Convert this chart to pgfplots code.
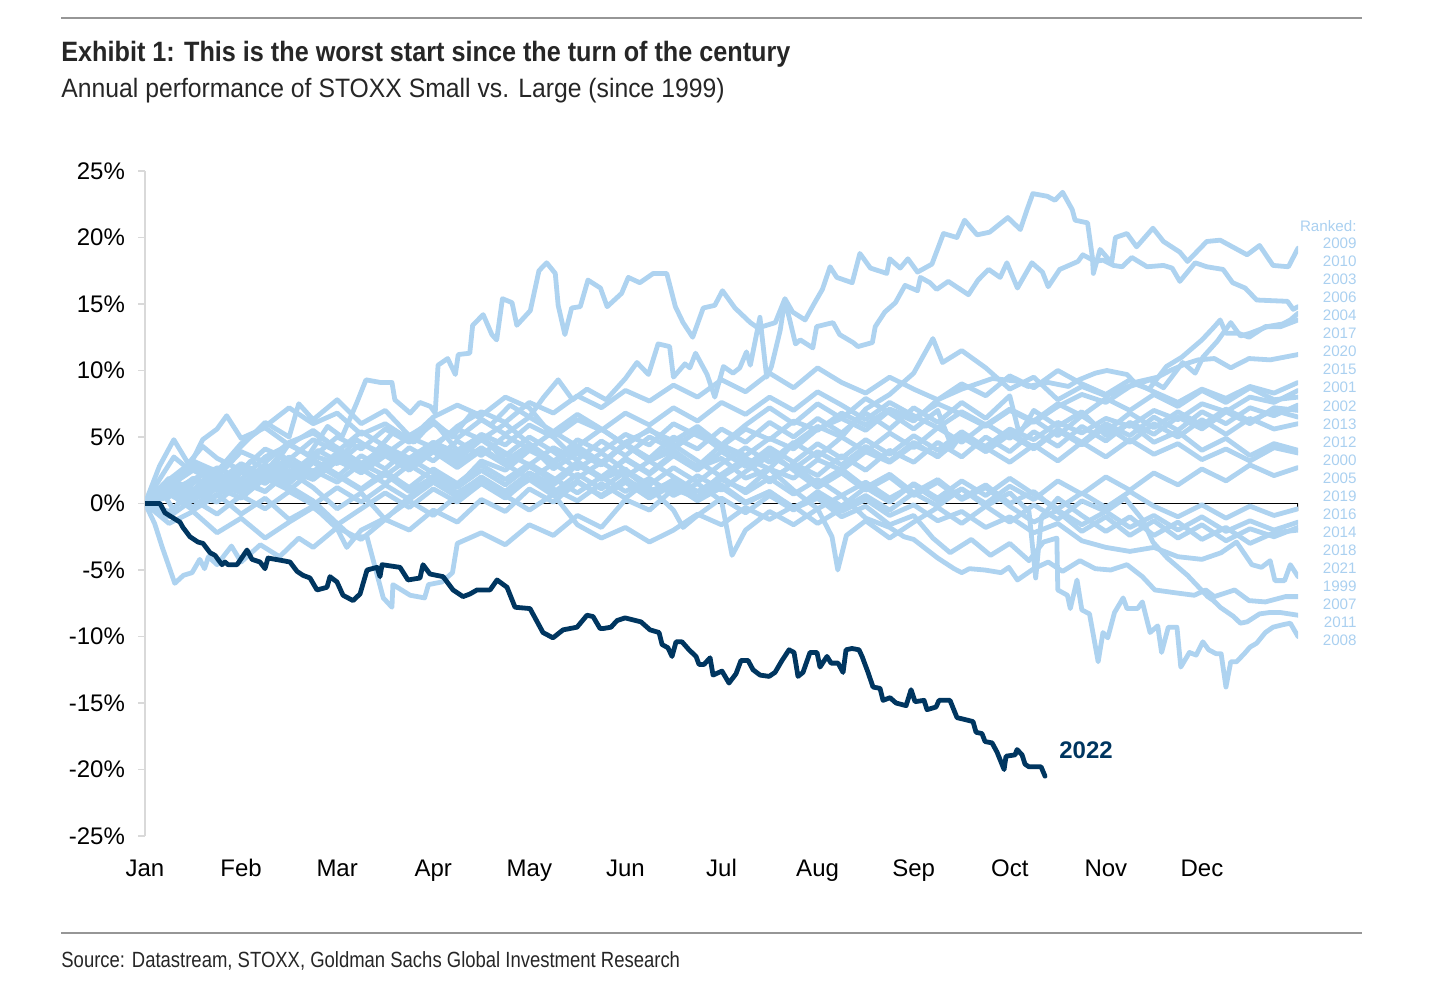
\documentclass[border=0pt]{standalone}
\usepackage{fontspec}
\setmainfont{Liberation Sans}
\newfontfamily\condfont[FakeStretch=0.9]{Liberation Sans}
\newfontfamily\subfont[FakeStretch=0.93]{Liberation Sans}
\newfontfamily\srcfont[FakeStretch=0.84]{Liberation Sans}
\usepackage{pgfplots}
\pgfplotsset{compat=1.18}
\definecolor{lb}{RGB}{174,211,240}
\definecolor{lbtext}{RGB}{170,208,240}
\definecolor{navy}{RGB}{0,54,96}
\definecolor{rulegray}{RGB}{150,150,150}
\definecolor{axgray}{RGB}{217,217,217}
\definecolor{titlec}{RGB}{38,38,38}
\pgfplotsset{lbline/.style={color=lb, line width=2.4pt, line join=round, line cap=round, mark=none}}
\begin{document}
\begin{tikzpicture}
\begin{scope}[x=0.5pt,y=0.5pt]
\useasboundingbox (0,0) rectangle (1438,986);
\draw[rulegray,line width=1pt] (61,968) -- (1362,968);
\draw[rulegray,line width=1pt] (61,53) -- (1362,53);
\node[anchor=base west,inner sep=0,text=titlec,font=\condfont\bfseries\fontsize{14}{16}\selectfont] at (61,924) {Exhibit 1: This is the worst start since the turn of the century};
\node[anchor=base west,inner sep=0,text=titlec,font=\subfont\fontsize{13.3}{16}\selectfont] at (61,888) {Annual performance of STOXX Small vs. Large (since 1999)};
\node[anchor=base west,inner sep=0,text=titlec,font=\srcfont\fontsize{11}{13}\selectfont] at (61,19) {Source: Datastream, STOXX, Goldman Sachs Global Investment Research};
\end{scope}
\begin{axis}[at={(72.5pt,75pt)},anchor=south west,scale only axis,
  width=576.5pt,height=332.5pt,
  xmin=0,xmax=12,ymin=-25,ymax=25,
  axis x line*=bottom, axis y line*=left,
  x axis line style={draw=none},
  y axis line style={draw=axgray,line width=0.7pt},
  xtick={0,1,2,3,4,5,6,7,8,9,10,11},
  xticklabels={Jan,Feb,Mar,Apr,May,Jun,Jul,Aug,Sep,Oct,Nov,Dec},
  xtick style={draw=none},
  ytick={-25,-20,-15,-10,-5,0,5,10,15,20,25},
  yticklabels={-25\%,-20\%,-15\%,-10\%,-5\%,0\%,5\%,10\%,15\%,20\%,25\%},
  ytick style={draw=axgray,line width=0.7pt},
  tick align=outside, major tick length=3.5pt,
  yticklabel style={font=\fontsize{12}{14}\selectfont,xshift=-3pt},
  xticklabel style={font=\fontsize{12}{14}\selectfont,text height=9pt,text depth=2.5pt,yshift=-4pt},
]
\addplot[black,line width=0.7pt] coordinates {(0,0) (12,0) (12,-0.6)};
% 2009
\addplot[lbline] coordinates {(0,0) (0.15,1.2) (0.3,-0.5) (0.5,1.8) (0.7,2.6) (0.9,1.5) (1.1,3.2) (1.3,2.4) (1.5,4.5) (1.7,3.6) (1.9,5.8) (2.05,5.0) (2.2,7.5) (2.3,9.3) (2.45,9.1) (2.57,9.1) (2.6,7.8) (2.76,6.8) (2.86,7.6) (2.97,7.3) (3.02,6.8) (3.05,10.4) (3.15,10.9) (3.23,9.7) (3.26,11.2) (3.38,11.3) (3.41,13.4) (3.52,14.2) (3.61,12.7) (3.66,12.3) (3.72,15.4) (3.82,15.1) (3.87,13.4) (4.01,14.5) (4.10,17.5) (4.18,18.1) (4.27,17.3) (4.30,14.9) (4.37,12.7) (4.44,14.7) (4.53,14.8) (4.61,16.8) (4.74,16.2) (4.81,14.8) (4.96,15.8) (5.03,17.0) (5.15,16.6) (5.29,17.3) (5.43,17.3) (5.52,14.8) (5.60,13.6) (5.70,12.5) (5.81,14.7) (5.93,14.9) (6.01,16.0) (6.14,14.7) (6.30,13.6) (6.38,13.2) (6.56,13.6) (6.66,15.4) (6.74,14.4) (6.87,13.8) (6.97,15.1) (7.05,16.1) (7.13,17.8) (7.20,17.0) (7.36,16.6) (7.44,18.8) (7.55,17.7) (7.72,17.3) (7.75,18.4) (7.86,17.7) (7.94,18.4) (8.04,17.4) (8.19,18.0) (8.31,20.3) (8.45,20.0) (8.53,21.3) (8.66,20.2) (8.79,20.4) (8.98,21.5) (9.11,20.6) (9.18,22.1) (9.24,23.3) (9.39,23.1) (9.47,22.8) (9.55,23.4) (9.65,22.1) (9.68,21.3) (9.81,21.1) (9.86,18.5) (9.87,17.3) (9.94,19.1) (10.06,18.1) (10.10,20.0) (10.22,20.3) (10.32,19.3) (10.49,20.7) (10.60,19.7) (10.77,18.9) (10.85,18.2) (11.05,19.7) (11.19,19.8) (11.47,18.7) (11.60,19.4) (11.74,17.9) (11.90,17.8) (12,19.2)};
% 2010
\addplot[lbline] coordinates {(0,0) (0.2,1.5) (0.4,0.8) (0.6,2.2) (0.8,1.0) (1.0,2.8) (1.2,2.0) (1.4,3.6) (1.6,2.5) (1.8,4.0) (2.0,3.2) (2.2,4.8) (2.4,3.9) (2.6,5.5) (2.8,4.6) (3.0,6.2) (3.2,5.0) (3.4,6.8) (3.6,5.9) (3.8,7.4) (4.0,6.5) (4.15,8.0) (4.3,9.3) (4.45,7.8) (4.6,8.6) (4.8,7.8) (5.0,9.4) (5.12,10.6) (5.24,9.7) (5.34,12.0) (5.46,11.8) (5.50,9.5) (5.62,10.5) (5.67,10.2) (5.73,11.3) (5.85,9.7) (5.93,8.0) (6.02,10.3) (6.12,9.8) (6.19,10.2) (6.26,11.4) (6.30,10.4) (6.40,14.0) (6.47,9.5) (6.52,10.3) (6.61,13.0) (6.66,15.3) (6.77,12.0) (6.82,12.3) (6.95,11.7) (6.99,13.3) (7.16,13.6) (7.23,12.7) (7.37,12.1) (7.42,11.8) (7.57,12.1) (7.60,13.3) (7.70,14.4) (7.81,15.1) (7.91,16.4) (8.04,16.0) (8.07,17.0) (8.17,16.6) (8.24,16.1) (8.36,16.7) (8.57,15.7) (8.67,16.8) (8.78,17.6) (8.90,17.0) (8.97,18.1) (9.08,16.2) (9.23,18.1) (9.34,17.4) (9.40,16.3) (9.52,17.6) (9.71,18.2) (9.76,18.7) (9.89,18.2) (9.97,18.3) (10.08,17.9) (10.17,17.8) (10.27,18.5) (10.43,17.8) (10.60,17.9) (10.69,17.7) (10.77,16.7) (10.93,18.1) (11.05,17.8) (11.22,17.6) (11.32,16.6) (11.45,16.2) (11.57,15.3) (11.89,15.2) (11.95,14.6) (12,14.8)};
% 2003
\addplot[lbline] coordinates {(0,0) (0.25,0.8) (0.5,-0.5) (0.75,0.6) (1,1.8) (1.25,0.9) (1.5,2.4) (1.75,1.2) (2,-0.4) (2.25,0.8) (2.5,-1.2) (2.75,0.5) (3,2.0) (3.25,1.3) (3.5,3.2) (3.75,2.5) (4,4.0) (4.25,3.1) (4.5,4.8) (4.75,3.9) (5,5.2) (5.25,4.4) (5.5,6.0) (5.75,5.1) (6,4.3) (6.25,5.6) (6.5,4.8) (6.75,6.2) (7,5.5) (7.25,6.8) (7.5,5.9) (7.75,7.1) (8,6.4) (8.25,7.5) (8.5,6.7) (8.75,5.8) (9,7.0) (9.25,6.1) (9.5,7.3) (9.75,8.2) (10,7.6) (10.25,8.8) (10.46,9.3) (10.6,8.7) (10.80,10.6) (10.93,9.8) (11.01,11.0) (11.16,12.2) (11.3,13.6) (11.4,12.6) (11.50,12.8) (11.68,13.3) (11.84,13.5) (11.92,13.8) (12,14.3)};
% 2006
\addplot[lbline] coordinates {(0,0) (0.25,1.8) (0.5,3.2) (0.75,2.4) (1,4.5) (1.25,5.8) (1.5,7.2) (1.75,6.0) (2,6.8) (2.25,5.2) (2.5,6.0) (2.75,4.8) (3,6.5) (3.25,7.4) (3.5,6.6) (3.75,8.0) (4,7.2) (4.25,5.0) (4.5,3.2) (4.75,1.8) (5,2.6) (5.25,0.9) (5.5,1.7) (5.75,0.5) (6,2.2) (6.25,3.4) (6.5,2.6) (6.75,4.5) (7,5.8) (7.25,5.0) (7.5,7.1) (7.75,8.2) (8,9.8) (8.2,12.4) (8.3,10.6) (8.5,11.5) (8.75,10.2) (9,8.6) (9.25,9.5) (9.5,7.8) (9.75,8.8) (10,8.1) (10.30,9.0) (10.45,8.6) (10.63,10.3) (10.79,11.0) (11.00,12.3) (11.13,13.3) (11.19,13.8) (11.25,12.8) (11.38,12.8) (11.49,12.5) (11.66,13.3) (11.82,13.3) (12,13.8)};
% 2004
\addplot[lbline] coordinates {(0,0) (0.25,1.5) (0.5,2.8) (0.75,2.0) (1,3.9) (1.25,3.1) (1.5,4.6) (1.75,5.3) (2,4.2) (2.25,3.0) (2.5,3.8) (2.75,2.6) (3,4.4) (3.25,5.6) (3.5,4.8) (3.75,6.0) (4,4.5) (4.25,3.2) (4.5,4.1) (4.75,3.0) (5,4.6) (5.25,5.5) (5.5,4.7) (5.75,5.8) (6,4.4) (6.25,3.6) (6.5,4.9) (6.75,4.1) (7,5.6) (7.25,6.4) (7.5,5.5) (7.75,7.0) (8,6.2) (8.25,7.8) (8.5,8.6) (8.82,9.4) (9.07,9.2) (9.19,8.8) (9.40,9.1) (9.61,8.8) (9.72,9.3) (9.89,9.8) (10.01,10.0) (10.22,9.7) (10.30,9.1) (10.54,9.5) (10.67,10.0) (10.83,10.5) (10.96,10.8) (11.13,10.9) (11.3,10.2) (11.49,10.9) (11.71,10.8) (12,11.2)};
% 2017
\addplot[lbline] coordinates {(0,0) (0.25,1.2) (0.5,0.6) (0.75,2.0) (1,1.4) (1.25,2.9) (1.5,2.2) (1.75,3.6) (2,3.0) (2.25,4.5) (2.5,3.7) (2.75,5.0) (3,4.2) (3.25,5.8) (3.5,6.9) (3.75,6.1) (4,7.6) (4.25,6.8) (4.5,8.1) (4.75,7.2) (5,8.5) (5.25,7.7) (5.5,8.9) (5.75,8.0) (6,9.3) (6.25,8.4) (6.5,9.8) (6.75,8.7) (7,10.2) (7.25,9.1) (7.5,8.3) (7.75,9.5) (8,8.6) (8.25,7.8) (8.5,9.0) (8.75,8.1) (9,9.6) (9.25,8.7) (9.5,10.0) (9.75,9.0) (10,8.2) (10.25,9.3) (10.5,8.4) (10.75,7.6) (11,8.6) (11.25,7.9) (11.5,8.8) (11.75,8.3) (12,9.1)};
% 2020
\addplot[lbline] coordinates {(0,0) (0.25,0.9) (0.5,0.2) (0.75,1.5) (1,0.8) (1.25,2.1) (1.5,1.3) (1.75,0.2) (2.0,-1.5) (2.15,-2.5) (2.31,-2.5) (2.48,-7.1) (2.57,-7.8) (2.58,-6.1) (2.76,-6.9) (2.91,-7.1) (2.95,-6.1) (3.09,-5.9) (3.20,-5.2) (3.25,-3.0) (3.5,-2.2) (3.75,-3.1) (4,-1.6) (4.25,-2.4) (4.5,-0.9) (4.75,-1.8) (5,0.3) (5.25,-0.5) (5.5,1.1) (5.75,0.4) (6,1.8) (6.25,1.0) (6.5,2.6) (6.75,1.9) (7,3.3) (7.25,2.5) (7.5,3.9) (7.75,3.1) (8,4.4) (8.25,3.6) (8.5,5.0) (8.75,4.3) (9,5.6) (9.25,4.8) (9.5,6.1) (9.75,5.3) (10,6.4) (10.25,5.8) (10.5,7.0) (10.75,6.3) (11,7.5) (11.25,6.9) (11.5,8.0) (11.75,7.6) (12,8.5)};
% 2015
\addplot[lbline] coordinates {(0,0) (0.25,-0.6) (0.5,0.8) (0.75,0.1) (1,1.6) (1.25,0.9) (1.5,2.5) (1.75,1.8) (2,3.2) (2.25,2.4) (2.5,3.9) (2.75,3.0) (3,4.6) (3.25,3.8) (3.5,5.2) (3.75,4.4) (4,5.9) (4.25,5.0) (4.5,6.3) (4.75,5.5) (5,6.8) (5.25,5.9) (5.5,7.2) (5.75,6.2) (6,7.6) (6.25,6.7) (6.5,8.0) (6.75,7.0) (7,8.4) (7.25,7.4) (7.5,6.3) (7.75,7.6) (8,6.6) (8.25,5.7) (8.5,6.9) (8.75,5.9) (9,7.1) (9.25,6.2) (9.5,7.5) (9.75,6.6) (10,7.9) (10.25,7.0) (10.5,8.2) (10.75,7.3) (11,8.5) (11.25,7.6) (11.5,8.7) (11.75,7.8) (12,8.0)};
% 2001
\addplot[lbline] coordinates {(0,0) (0.15,2.8) (0.3,4.8) (0.45,3.0) (0.6,4.3) (0.75,3.4) (1,2.5) (1.25,4.1) (1.5,3.3) (1.75,4.8) (2,3.9) (2.25,5.4) (2.5,4.3) (2.75,3.4) (3,4.6) (3.25,3.5) (3.5,4.9) (3.75,3.8) (4,2.9) (4.25,4.2) (4.5,3.3) (4.75,4.7) (5,3.6) (5.25,5.0) (5.5,4.1) (5.75,5.5) (6,4.4) (6.25,5.9) (6.5,7.2) (6.75,6.0) (7,7.5) (7.25,6.4) (7.5,7.9) (7.75,6.8) (8,5.6) (8.25,7.0) (8.4,4.2) (8.5,5.2) (8.75,3.9) (9,5.4) (9.25,4.2) (9.5,5.6) (9.75,4.6) (10,6.0) (10.25,5.1) (10.5,6.5) (10.75,5.5) (11,6.9) (11.25,6.0) (11.5,7.2) (11.75,6.6) (12,7.4)};
% 2002
\addplot[lbline] coordinates {(0,0) (0.25,1.0) (0.5,-0.4) (0.75,0.7) (1,-0.8) (1.25,0.4) (1.5,-1.2) (1.75,-0.2) (2,-1.9) (2.1,-3.3) (2.25,-2.0) (2.5,-1.1) (2.75,0.2) (3,-0.9) (3.25,0.6) (3.5,1.8) (3.75,0.9) (4,2.3) (4.25,1.4) (4.5,2.9) (4.75,1.9) (5,3.4) (5.25,2.3) (5.5,3.8) (5.75,2.8) (6,4.4) (6.25,3.2) (6.5,1.6) (6.75,3.0) (7,2.1) (7.25,3.6) (7.5,2.5) (7.75,4.0) (8,3.1) (8.25,4.6) (8.5,3.5) (8.75,5.0) (9,3.9) (9.25,5.4) (9.5,4.3) (9.75,5.8) (10,4.7) (10.25,6.1) (10.5,5.2) (10.75,6.5) (11,5.6) (11.25,6.9) (11.5,6.0) (11.75,7.2) (12,7.0)};
% 2013
\addplot[lbline] coordinates {(0,0) (0.15,1.8) (0.3,3.5) (0.45,2.6) (0.6,4.8) (0.75,5.6) (0.85,6.6) (1,4.9) (1.25,5.7) (1.5,4.4) (1.75,5.5) (2,4.1) (2.25,3.0) (2.5,4.3) (2.75,3.1) (3,4.5) (3.25,3.3) (3.5,4.8) (3.75,3.6) (4,5.0) (4.25,3.9) (4.5,2.6) (4.75,3.8) (5,2.5) (5.25,1.4) (5.5,2.7) (5.75,1.6) (6,3.0) (6.25,4.2) (6.5,3.1) (6.75,4.6) (7,3.5) (7.25,5.0) (7.5,3.9) (7.75,5.3) (8,4.2) (8.25,5.7) (8.5,4.6) (8.75,6.0) (9,4.9) (9.25,6.3) (9.5,5.1) (9.75,6.6) (10,5.4) (10.25,6.8) (10.5,5.7) (10.75,6.9) (11,5.9) (11.25,7.1) (11.5,6.2) (11.75,7.0) (12,6.5)};
% 2012
\addplot[lbline] coordinates {(0,0) (0.25,0.5) (0.5,1.9) (0.75,1.1) (1,2.6) (1.25,1.7) (1.5,3.1) (1.75,2.2) (2,3.6) (2.25,2.6) (2.5,1.5) (2.75,2.9) (3,1.8) (3.25,0.7) (3.5,2.0) (3.75,0.9) (4,2.3) (4.25,1.1) (4.5,0.2) (4.75,1.5) (5,0.4) (5.25,1.8) (5.5,0.7) (5.75,2.1) (6,1.0) (6.25,2.4) (6.5,3.6) (6.75,2.6) (7,3.9) (7.25,2.9) (7.5,4.3) (7.75,3.2) (8,4.6) (8.25,3.5) (8.5,5.0) (8.75,3.9) (9,5.2) (9.25,4.1) (9.5,5.5) (9.75,4.4) (10,5.8) (10.25,4.6) (10.5,6.0) (10.75,5.0) (11,6.3) (11.25,5.2) (11.5,6.4) (11.75,5.6) (12,6.0)};
% 2000
\addplot[lbline] coordinates {(0,0) (0.25,1.4) (0.5,3.0) (0.75,2.1) (1,4.3) (1.25,6.1) (1.5,5.0) (1.6,7.5) (1.75,6.3) (2,7.8) (2.25,6.0) (2.5,7.0) (2.75,5.1) (3,6.2) (3.25,4.0) (3.5,5.1) (3.75,3.2) (4,4.4) (4.25,2.6) (4.5,3.8) (4.75,2.9) (5,4.5) (5.25,3.4) (5.5,5.0) (5.75,4.1) (6,5.6) (6.25,4.6) (6.5,6.1) (6.75,5.0) (7,6.4) (7.25,5.3) (7.5,6.8) (7.75,5.6) (8,7.2) (8.25,6.1) (8.5,7.6) (8.75,6.4) (9,8.1) (9.1,5.2) (9.25,7.0) (9.5,5.8) (9.75,6.9) (10,5.1) (10.25,6.0) (10.5,4.6) (10.75,5.4) (11,4.0) (11.25,4.9) (11.5,3.6) (11.75,4.5) (12,4.0)};
% 2005
\addplot[lbline] coordinates {(0,0) (0.25,0.7) (0.5,-0.3) (0.75,1.2) (1,0.4) (1.25,1.9) (1.5,1.0) (1.75,2.5) (2,1.6) (2.25,3.0) (2.5,2.1) (2.75,3.4) (3,2.3) (3.25,1.2) (3.5,2.5) (3.75,1.4) (4,2.8) (4.25,1.7) (4.5,3.1) (4.75,2.0) (5,3.3) (5.25,2.2) (5.5,3.6) (5.75,2.5) (6,3.9) (6.25,2.8) (6.5,4.2) (6.75,3.1) (7,4.5) (7.25,3.4) (7.5,4.8) (7.75,3.7) (8,5.1) (8.25,4.0) (8.5,5.4) (8.75,4.2) (9,3.1) (9.25,4.4) (9.5,3.2) (9.75,4.6) (10,3.5) (10.25,4.8) (10.5,3.7) (10.75,4.5) (11,3.3) (11.25,4.1) (11.5,3.2) (11.75,4.2) (12,3.8)};
% 2019
\addplot[lbline] coordinates {(0,0) (0.25,1.6) (0.5,0.9) (0.75,2.3) (1,1.4) (1.25,2.8) (1.5,1.8) (1.75,3.2) (2,2.1) (2.25,1.0) (2.5,2.2) (2.75,0.9) (3,2.0) (3.25,0.8) (3.5,1.9) (3.75,0.6) (4,-0.5) (4.25,0.7) (4.5,-1.6) (4.75,-2.6) (5,-1.8) (5.25,-2.9) (5.5,-2.0) (5.75,-0.8) (6,-1.6) (6.25,-0.3) (6.5,-1.2) (6.75,-0.2) (7,-1.5) (7.25,-0.4) (7.5,0.6) (7.75,-0.5) (8,0.8) (8.25,-0.2) (8.5,1.1) (8.75,0.0) (9,1.3) (9.25,0.3) (9.5,1.7) (9.75,0.7) (10,2.0) (10.25,1.0) (10.5,2.3) (10.75,1.4) (11,2.6) (11.25,1.7) (11.5,2.9) (11.75,2.1) (12,2.7)};
% 2016
\addplot[lbline] coordinates {(0,0) (0.25,-1.5) (0.5,-0.6) (0.75,-2.2) (1,-1.1) (1.25,-2.6) (1.5,-1.4) (1.75,-0.3) (2,-1.6) (2.25,-0.4) (2.5,0.8) (2.75,-0.3) (3,1.1) (3.25,0.1) (3.5,1.5) (3.75,0.4) (4,1.9) (4.25,0.8) (4.5,2.2) (4.75,1.1) (5,2.4) (5.25,1.2) (5.5,-0.5) (5.6,-1.8) (5.75,-0.9) (6,0.4) (6.25,-0.7) (6.5,0.6) (6.75,-0.5) (7,0.9) (7.25,-0.2) (7.5,1.2) (7.75,0.1) (8,1.5) (8.25,0.4) (8.5,1.7) (8.75,0.6) (9,1.9) (9.25,0.7) (9.5,-0.4) (9.75,0.8) (10,-0.3) (10.25,0.9) (10.5,-0.2) (10.75,-1.0) (11,-0.1) (11.25,-1.1) (11.5,-0.2) (11.75,-0.9) (12,-0.4)};
% 2014
\addplot[lbline] coordinates {(0,0) (0.25,1.9) (0.5,1.0) (0.75,2.7) (1,1.8) (1.25,3.5) (1.5,4.4) (1.75,3.5) (2,5.0) (2.25,4.1) (2.5,5.6) (2.75,4.6) (3,6.0) (3.25,4.9) (3.5,6.3) (3.75,5.2) (4,6.5) (4.25,5.4) (4.5,6.7) (4.75,5.6) (5,4.4) (5.25,5.6) (5.5,4.3) (5.75,5.4) (6,4.0) (6.25,2.8) (6.5,3.9) (6.75,2.5) (7,1.2) (7.25,2.3) (7.5,1.0) (7.75,2.0) (8,0.6) (8.25,1.6) (8.5,0.3) (8.75,1.2) (9,-0.2) (9.25,-1.4) (9.5,-0.5) (9.75,-1.6) (10,-0.6) (10.25,-1.8) (10.5,-0.9) (10.75,-2.0) (11,-1.0) (11.25,-2.1) (11.5,-1.3) (11.75,-2.0) (12,-1.4)};
% 2018
\addplot[lbline] coordinates {(0,0) (0.25,0.9) (0.5,1.8) (0.75,1.0) (1,2.4) (1.25,1.5) (1.5,2.9) (1.75,1.9) (2,3.3) (2.25,2.3) (2.5,3.6) (2.75,2.5) (3,3.9) (3.25,2.7) (3.5,4.0) (3.75,2.9) (4,4.2) (4.25,3.0) (4.5,4.3) (4.75,3.1) (5,4.4) (5.25,3.2) (5.5,4.4) (5.75,3.2) (6,2.0) (6.25,3.1) (6.5,1.8) (6.75,2.9) (7,1.5) (7.25,2.6) (7.5,1.2) (7.75,2.2) (8,0.8) (8.25,1.8) (8.5,0.4) (8.75,1.4) (9,0.0) (9.25,0.9) (9.5,-0.6) (9.75,-2.1) (10,-1.0) (10.25,-2.4) (10.5,-1.3) (10.75,-2.6) (11,-1.6) (11.25,-2.8) (11.5,-1.9) (11.75,-2.5) (12,-1.8)};
% 2021
\addplot[lbline] coordinates {(0,0) (0.25,1.3) (0.5,2.5) (0.75,1.6) (1,3.0) (1.25,2.1) (1.5,3.5) (1.75,2.4) (2,3.8) (2.25,2.7) (2.5,4.0) (2.75,2.9) (3,4.1) (3.25,3.0) (3.5,4.2) (3.75,3.0) (4,1.8) (4.25,3.0) (4.5,1.9) (4.75,3.1) (5,2.0) (5.25,3.2) (5.5,2.0) (5.75,0.9) (6,2.0) (6.25,0.8) (6.5,1.9) (6.75,0.7) (7,1.8) (7.25,0.6) (7.5,1.6) (7.75,0.4) (8,1.4) (8.25,0.2) (8.5,1.1) (8.75,-0.2) (9,0.8) (9.2,-0.6) (9.27,-5.6) (9.33,-1.0) (9.5,0.4) (9.75,-0.9) (10,-2.1) (10.25,-1.0) (10.5,-2.4) (10.75,-1.4) (11,-2.7) (11.25,-1.8) (11.5,-3.0) (11.75,-2.2) (12,-2.0)};
% 1999
\addplot[lbline] coordinates {(0,0) (0.25,-1.0) (0.5,0.3) (0.75,-0.8) (1,0.6) (1.25,-0.4) (1.5,0.9) (1.75,-0.1) (2,1.2) (2.25,0.1) (2.5,1.4) (2.75,0.3) (3,1.6) (3.25,0.5) (3.5,1.7) (3.75,0.6) (4,1.8) (4.25,0.6) (4.5,1.7) (4.75,0.5) (5,1.6) (5.25,0.4) (5.5,1.4) (5.75,0.2) (6,1.2) (6.25,0.0) (6.5,0.9) (6.75,-0.3) (7,0.6) (7.25,-0.6) (7.5,0.3) (7.75,-0.9) (8,-0.1) (8.25,-1.3) (8.5,-0.6) (8.75,-1.8) (9,-1.0) (9.25,-2.2) (9.5,-1.5) (9.75,-2.8) (10,-3.3) (10.25,-3.6) (10.5,-3.3) (10.75,-4.0) (11,-4.2) (11.2,-3.7) (11.36,-2.9) (11.52,-4.6) (11.62,-4.8) (11.71,-4.3) (11.76,-5.8) (11.86,-5.8) (11.92,-4.6) (12,-5.5)};
% 2007
\addplot[lbline] coordinates {(0,0) (0.25,1.2) (0.5,0.4) (0.75,1.9) (1,1.0) (1.25,2.6) (1.5,1.5) (1.75,3.1) (2,2.0) (2.25,3.6) (2.5,2.6) (2.75,4.2) (3,3.2) (3.25,4.7) (3.5,3.6) (3.75,5.1) (4,4.1) (4.25,5.4) (4.5,4.3) (4.75,5.6) (5,4.4) (5.25,3.2) (5.5,4.0) (5.75,2.7) (6,3.4) (6.25,1.9) (6.5,2.6) (6.75,1.0) (7,-0.4) (7.25,0.6) (7.5,-1.1) (7.75,-1.8) (7.9,-2.5) (8.0,-2.7) (8.25,-4.1) (8.42,-4.9) (8.5,-5.2) (8.58,-4.9) (8.74,-5.0) (8.91,-5.2) (8.99,-4.8) (9.08,-5.75) (9.25,-4.9) (9.4,-4.4) (9.55,-5.1) (9.73,-4.3) (9.89,-4.9) (10.05,-5.0) (10.22,-4.6) (10.38,-5.5) (10.51,-6.5) (10.71,-6.7) (10.92,-6.9) (11.04,-6.5) (11.13,-7.0) (11.34,-6.5) (11.49,-7.3) (11.66,-7.4) (11.87,-7.0) (12,-7.0)};
% 2011
\addplot[lbline] coordinates {(0,0) (0.25,1.6) (0.5,0.7) (0.75,2.2) (1,1.3) (1.25,2.9) (1.5,1.9) (1.75,3.3) (2,2.2) (2.25,1.1) (2.5,2.4) (2.75,1.2) (3,2.6) (3.25,1.5) (3.5,2.9) (3.75,1.8) (4,3.0) (4.25,1.9) (4.5,0.8) (4.75,2.0) (5,0.9) (5.25,1.9) (5.5,0.6) (5.75,1.5) (6,0.2) (6.11,-3.9) (6.25,-2.0) (6.5,-0.6) (6.75,-1.6) (7,-0.4) (7.15,-2.5) (7.21,-5.0) (7.3,-2.4) (7.5,-1.3) (7.75,-2.6) (8,-1.4) (8.25,-0.3) (8.5,-1.5) (8.75,-0.2) (9,-1.4) (9.25,-0.1) (9.5,-1.2) (9.75,0.2) (10,-0.6) (10.2,0.4) (10.38,-1.2) (10.49,-2.9) (10.64,-4.1) (10.85,-5.4) (11.06,-7.0) (11.12,-7.3) (11.19,-7.8) (11.27,-8.2) (11.33,-8.5) (11.40,-9.0) (11.47,-8.9) (11.6,-8.3) (11.7,-8.2) (11.82,-8.2) (12,-8.4)};
% 2008
\addplot[lbline] coordinates {(0,0) (0.1,-1.5) (0.18,-3.3) (0.31,-6.0) (0.40,-5.4) (0.49,-5.2) (0.57,-4.2) (0.62,-4.9) (0.66,-4.0) (0.75,-4.6) (0.9,-3.2) (1.0,-4.4) (1.2,-3.1) (1.4,-4.0) (1.6,-2.6) (1.75,-3.3) (2,-1.8) (2.25,-2.7) (2.5,-1.2) (2.75,-2.0) (3,-0.5) (3.25,-1.4) (3.5,0.3) (3.75,-0.6) (4,1.1) (4.25,0.1) (4.5,1.6) (4.75,0.6) (5,1.9) (5.25,0.7) (5.5,1.8) (5.75,0.5) (6,1.4) (6.25,0.1) (6.5,0.9) (6.75,-0.4) (7,0.4) (7.25,-1.0) (7.5,-0.2) (7.75,-1.6) (8,-0.9) (8.2,-2.6) (8.38,-3.7) (8.6,-2.7) (8.8,-3.9) (9.0,-3.0) (9.2,-4.3) (9.35,-2.9) (9.49,-2.6) (9.50,-6.5) (9.6,-6.9) (9.63,-7.9) (9.70,-5.75) (9.75,-8.0) (9.83,-8.3) (9.92,-11.9) (9.97,-9.7) (10.02,-10.1) (10.09,-8.2) (10.18,-7.1) (10.22,-7.9) (10.33,-7.9) (10.38,-7.4) (10.46,-9.7) (10.54,-9.2) (10.58,-11.2) (10.65,-9.3) (10.74,-9.3) (10.78,-12.3) (10.87,-11.2) (10.94,-11.4) (11.01,-10.4) (11.07,-11.0) (11.15,-11.3) (11.20,-11.3) (11.25,-13.8) (11.30,-11.9) (11.36,-11.9) (11.44,-11.3) (11.50,-10.8) (11.57,-10.5) (11.66,-9.7) (11.74,-9.3) (11.85,-9.1) (11.92,-9.0) (12,-10.0)};
% 2022
\addplot[color=navy,line width=2.4pt,line join=round,line cap=round,mark=none] coordinates {(0,0) (0.156,0) (0.208,-0.7) (0.364,-1.4) (0.395,-1.8) (0.468,-2.5) (0.552,-2.9) (0.604,-3.0) (0.677,-3.7) (0.729,-3.9) (0.801,-4.6) (0.833,-4.4) (0.864,-4.6) (0.958,-4.6) (1.062,-3.5) (1.114,-4.2) (1.197,-4.4) (1.249,-4.9) (1.280,-4.1) (1.436,-4.3) (1.509,-4.4) (1.582,-5.1) (1.644,-5.4) (1.717,-5.6) (1.790,-6.5) (1.894,-6.3) (1.925,-5.5) (1.998,-5.9) (2.061,-6.9) (2.165,-7.3) (2.238,-6.8) (2.311,-5.0) (2.415,-4.8) (2.446,-5.5) (2.467,-4.6) (2.654,-4.8) (2.737,-5.75) (2.862,-5.6) (2.893,-4.6) (2.966,-5.3) (3.102,-5.5) (3.206,-6.5) (3.310,-7.0) (3.383,-6.8) (3.455,-6.5) (3.591,-6.5) (3.664,-5.75) (3.768,-6.3) (3.851,-7.8) (4.007,-7.9) (4.142,-9.7) (4.246,-10.1) (4.351,-9.5) (4.496,-9.3) (4.600,-8.4) (4.663,-8.5) (4.736,-9.4) (4.767,-9.4) (4.850,-9.3) (4.913,-8.8) (4.996,-8.6) (5.162,-8.9) (5.256,-9.5) (5.350,-9.7) (5.381,-10.6) (5.443,-10.85) (5.485,-11.5) (5.527,-10.4) (5.589,-10.4) (5.662,-11.0) (5.735,-11.5) (5.766,-12.1) (5.818,-12.1) (5.881,-11.6) (5.912,-12.9) (6.005,-12.6) (6.078,-13.5) (6.151,-12.8) (6.203,-11.8) (6.276,-11.8) (6.328,-12.5) (6.401,-12.9) (6.495,-13.0) (6.557,-12.7) (6.630,-11.8) (6.703,-11.0) (6.755,-11.2) (6.796,-13.0) (6.848,-12.7) (6.921,-11.2) (6.994,-11.2) (7.025,-12.3) (7.098,-11.5) (7.140,-12.0) (7.213,-12.0) (7.265,-12.7) (7.296,-11.0) (7.358,-10.9) (7.431,-11.0) (7.463,-11.5) (7.525,-12.7) (7.577,-13.8) (7.650,-13.9) (7.681,-14.8) (7.754,-14.6) (7.816,-15.0) (7.921,-15.2) (7.973,-14.0) (8.014,-14.9) (8.108,-14.8) (8.139,-15.5) (8.233,-15.3) (8.264,-14.8) (8.378,-14.8) (8.451,-16.1) (8.566,-16.3) (8.618,-16.4) (8.649,-17.2) (8.711,-17.3) (8.743,-17.9) (8.816,-18.0) (8.868,-18.7) (8.941,-20.0) (8.961,-19.0) (9.055,-18.9) (9.076,-18.5) (9.128,-18.9) (9.159,-19.6) (9.201,-19.8) (9.326,-19.8) (9.367,-20.5)};
\end{axis}
\begin{scope}[x=0.5pt,y=0.5pt]
\node[anchor=center,inner sep=0,text=navy,font=\bfseries\fontsize{12}{14}\selectfont] at (1086,236) {2022};
\begin{scope}[every node/.style={anchor=east,inner sep=0,text=lbtext,font=\fontsize{7.6}{9}\selectfont}]
\node at (1357,760) {Ranked:};
\node at (1357,743) {2009};
\node at (1357,725) {2010};
\node at (1357,707) {2003};
\node at (1357,689) {2006};
\node at (1357,671) {2004};
\node at (1357,653) {2017};
\node at (1357,635) {2020};
\node at (1357,617) {2015};
\node at (1357,599) {2001};
\node at (1357,580) {2002};
\node at (1357,562) {2013};
\node at (1357,544) {2012};
\node at (1357,526) {2000};
\node at (1357,508) {2005};
\node at (1357,490) {2019};
\node at (1357,472) {2016};
\node at (1357,454) {2014};
\node at (1357,436) {2018};
\node at (1357,418) {2021};
\node at (1357,400) {1999};
\node at (1357,382) {2007};
\node at (1357,364) {2011};
\node at (1357,346) {2008};
\end{scope}
\end{scope}
\end{tikzpicture}
\end{document}
